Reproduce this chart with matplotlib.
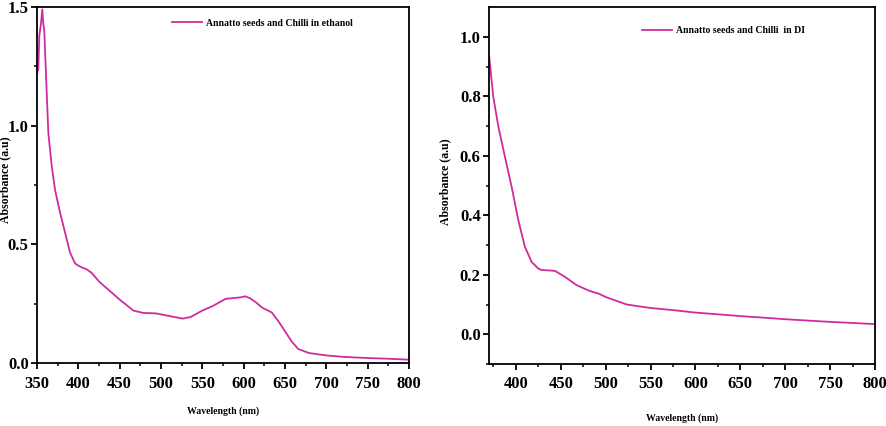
import matplotlib
matplotlib.use("Agg")
import matplotlib.pyplot as plt
import matplotlib.ticker as mticker
import numpy as np

# Left panel: Annatto seeds and Chilli in ethanol
wl_eth = [350, 351.6, 352.8, 354.8, 356.4, 357.6, 358.8, 360.5, 363.7, 367.8, 371.8, 377.8,
          383.9, 390, 396, 400, 406, 410, 416, 426, 436, 450, 458, 466.5, 478.6, 494, 510,
          526, 536, 550, 562, 578, 586, 595, 602, 608, 615, 622, 634, 642, 650, 658, 666,
          679, 700, 720, 749, 775, 800]
abs_eth = [1.22, 1.24, 1.38, 1.43, 1.49, 1.43, 1.40, 1.25, 0.97, 0.83, 0.73, 0.635,
           0.55, 0.465, 0.42, 0.41, 0.40, 0.395, 0.38, 0.34, 0.31, 0.267, 0.245, 0.221, 0.211, 0.209, 0.198,
           0.187, 0.194, 0.221, 0.239, 0.27, 0.273, 0.276, 0.281, 0.272, 0.255, 0.234, 0.213, 0.176, 0.134,
           0.091, 0.059, 0.042, 0.032, 0.026, 0.021, 0.018, 0.014]

# Right panel: Annatto seeds and Chilli in DI
wl_di = [370.2, 374.7, 380.3, 387.7, 395.2, 402.6, 410, 417.5, 424.8, 428.6, 434.2, 443.5,
         454.6, 467.6, 482.5, 491.7, 501, 523.4, 549, 575.3, 599.4, 625, 650, 675, 700,
         725, 750, 775, 800]
abs_di = [0.934, 0.80, 0.70, 0.597, 0.496, 0.384, 0.294, 0.243, 0.221, 0.216, 0.215, 0.213,
          0.193, 0.165, 0.145, 0.137, 0.124, 0.10, 0.0886, 0.081, 0.073, 0.067, 0.061, 0.056, 0.0505,
          0.046, 0.0415, 0.038, 0.034]

eth_label = "Annatto seeds and Chilli in ethanol"
di_label = "Annatto seeds and Chilli  in DI"
xlabel = "Wavelength (nm)"
ylabel = "Absorbance (a.u)"

color = "#d02b9c"
font = "Liberation Serif"

fig = plt.figure(figsize=(8.86, 4.26), dpi=100)
ax1 = fig.add_axes([37/886, 1-363/426, (409-37)/886, (363-7)/426])
ax2 = fig.add_axes([489/886, 1-364/426, (875-489)/886, (364-7)/426])

def style(ax, xlim, ylim, xt, yt, xminor, yminor):
    ax.set_xlim(*xlim)
    ax.set_ylim(*ylim)
    ax.set_xticks(xt)
    ax.set_yticks(yt)
    ax.set_xticks(xminor, minor=True)
    ax.set_yticks(yminor, minor=True)
    ax.tick_params(which='major', direction='out', length=4, width=1.3)
    ax.tick_params(which='minor', direction='out', length=2.5, width=1.1)
    ax.tick_params(axis='x', which='major', pad=5)
    ax.tick_params(axis='y', which='major', pad=2)
    for s in ax.spines.values():
        s.set_linewidth(1.3)
    ax.yaxis.set_major_formatter(mticker.FormatStrFormatter('%.1f'))
    for lab in ax.get_xticklabels() + ax.get_yticklabels():
        lab.set_fontfamily(font)
        lab.set_fontweight('bold')
        lab.set_fontsize(12)
    ax.set_xlabel(xlabel, fontfamily=font, fontweight='bold', fontsize=7)
    ax.set_ylabel(ylabel, fontfamily=font, fontweight='bold', fontsize=8.5)

ax1.plot(wl_eth, abs_eth, color=color, lw=1.3, label=eth_label, solid_joinstyle='round')
style(ax1, (350, 800), (0, 1.5), np.arange(350, 801, 50), [0.0, 0.5, 1.0, 1.5],
      np.arange(375, 800, 50), [0.25, 0.75, 1.25])
ax1.yaxis.set_label_coords(-0.068, 0.515)
ax1.xaxis.set_label_coords(0.5, -0.121)
ax1.legend(loc='center left', bbox_to_anchor=(0.363, 0.955), frameon=False,
           borderaxespad=0, borderpad=0,
           prop={'family': font, 'weight': 'bold', 'size': 7}, handlelength=3.1, handletextpad=0.4)

ax2.plot(wl_di, abs_di, color=color, lw=1.3, label=di_label, solid_joinstyle='round')
style(ax2, (370, 800), (-0.1, 1.1), np.arange(400, 801, 50), [0.0, 0.2, 0.4, 0.6, 0.8, 1.0],
      np.arange(375, 800, 50), [-0.1, 0.1, 0.3, 0.5, 0.7, 0.9])
ax2.yaxis.set_label_coords(-0.098, 0.51)
ax2.xaxis.set_label_coords(0.499, -0.137)
ax2.legend(loc='center left', bbox_to_anchor=(0.396, 0.933), frameon=False,
           borderaxespad=0, borderpad=0,
           prop={'family': font, 'weight': 'bold', 'size': 7}, handlelength=3.1, handletextpad=0.4)

fig.savefig("out.png", dpi=100)
